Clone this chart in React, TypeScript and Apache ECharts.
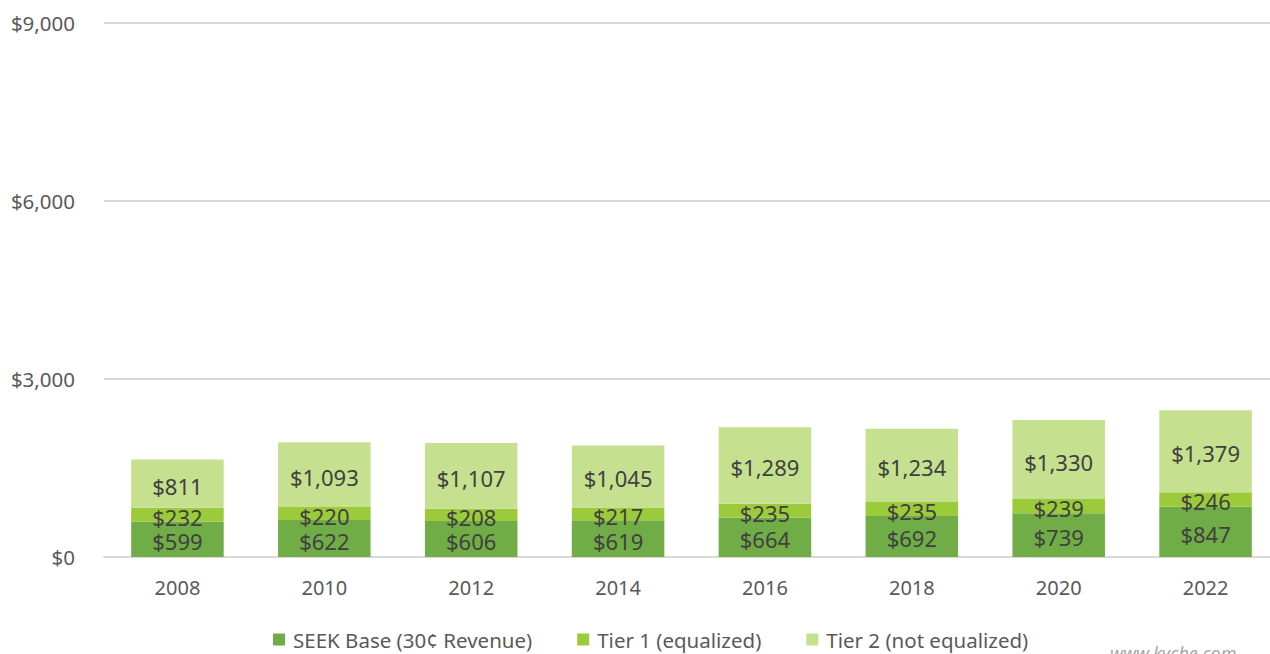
import React, { useEffect, useRef } from "react";
import * as echarts from "echarts";

const years = ["2008", "2010", "2012", "2014", "2016", "2018", "2020", "2022"];
const seekBase = [599, 622, 606, 619, 664, 692, 739, 847];
const tier1 = [232, 220, 208, 217, 235, 235, 239, 246];
const tier2 = [811, 1093, 1107, 1045, 1289, 1234, 1330, 1379];
const seriesNames = ["SEEK Base (30¢ Revenue)", "Tier 1 (equalized)", "Tier 2 (not equalized)"];
const colors = ["#70AD47", "#9BCB3B", "#C5E08E"];

const FONT = "'Noto Sans', sans-serif";

const fmt = (v: number) => "$" + v.toLocaleString("en-US");

export default function App() {
  const ref = useRef<HTMLDivElement>(null);
  useEffect(() => {
    if (!ref.current) return;
    const chart = echarts.init(ref.current, undefined, { renderer: "svg" });
    const mk = (name: string, data: number[], color: string) => ({
      name,
      type: "bar",
      stack: "total",
      data,
      barWidth: "63%",
      itemStyle: { color },
      label: {
        show: true,
        position: "inside",
        offset: [0, 2],
        formatter: (p: any) => fmt(p.value),
        color: "#404040",
        fontSize: 22,
        fontFamily: FONT,
      },
    });
    chart.setOption({
      animation: false,
      textStyle: { fontFamily: FONT },
      grid: { left: 104, right: 11, top: 23, bottom: 97, containLabel: false },
      legend: {
        top: 624,
        left: 268,
        itemWidth: 12,
        itemHeight: 12,
        itemGap: 45,
        icon: "rect",
        textStyle: { color: "#595959", fontSize: 20.5, fontFamily: FONT, padding: [0, 0, 0, 3] },
        data: seriesNames,
      },
      xAxis: {
        type: "category",
        data: years,
        axisLine: { lineStyle: { color: "#D9D9D9", width: 2 } },
        axisTick: { show: false },
        axisLabel: { color: "#595959", fontSize: 20, margin: 20, fontFamily: FONT },
      },
      yAxis: {
        type: "value",
        min: 0,
        max: 9000,
        interval: 3000,
        axisLine: { show: false },
        axisTick: { show: false },
        axisLabel: {
          color: "#595959",
          fontSize: 20.5,
          margin: 29,
          fontFamily: FONT,
          formatter: (v: number) => fmt(v),
        },
        splitLine: { lineStyle: { color: "#D9D9D9", width: 2 } },
      },
      series: [
        mk(seriesNames[0], seekBase, colors[0]),
        mk(seriesNames[1], tier1, colors[1]),
        mk(seriesNames[2], tier2, colors[2]),
      ],
      graphic: [
        {
          type: "text",
          left: 1110,
          top: 644,
          style: {
            text: "www.kyche.com",
            fill: "#A6A6A6",
            font: "italic 18px " + FONT,
          },
        },
      ],
    });
    return () => chart.dispose();
  }, []);
  return (
    <div style={{ position: "absolute", left: 0, top: 0, width: 1270, height: 654, overflow: "hidden" }}>
      <div ref={ref} style={{ width: 1290, height: 654 }} />
    </div>
  );
}
